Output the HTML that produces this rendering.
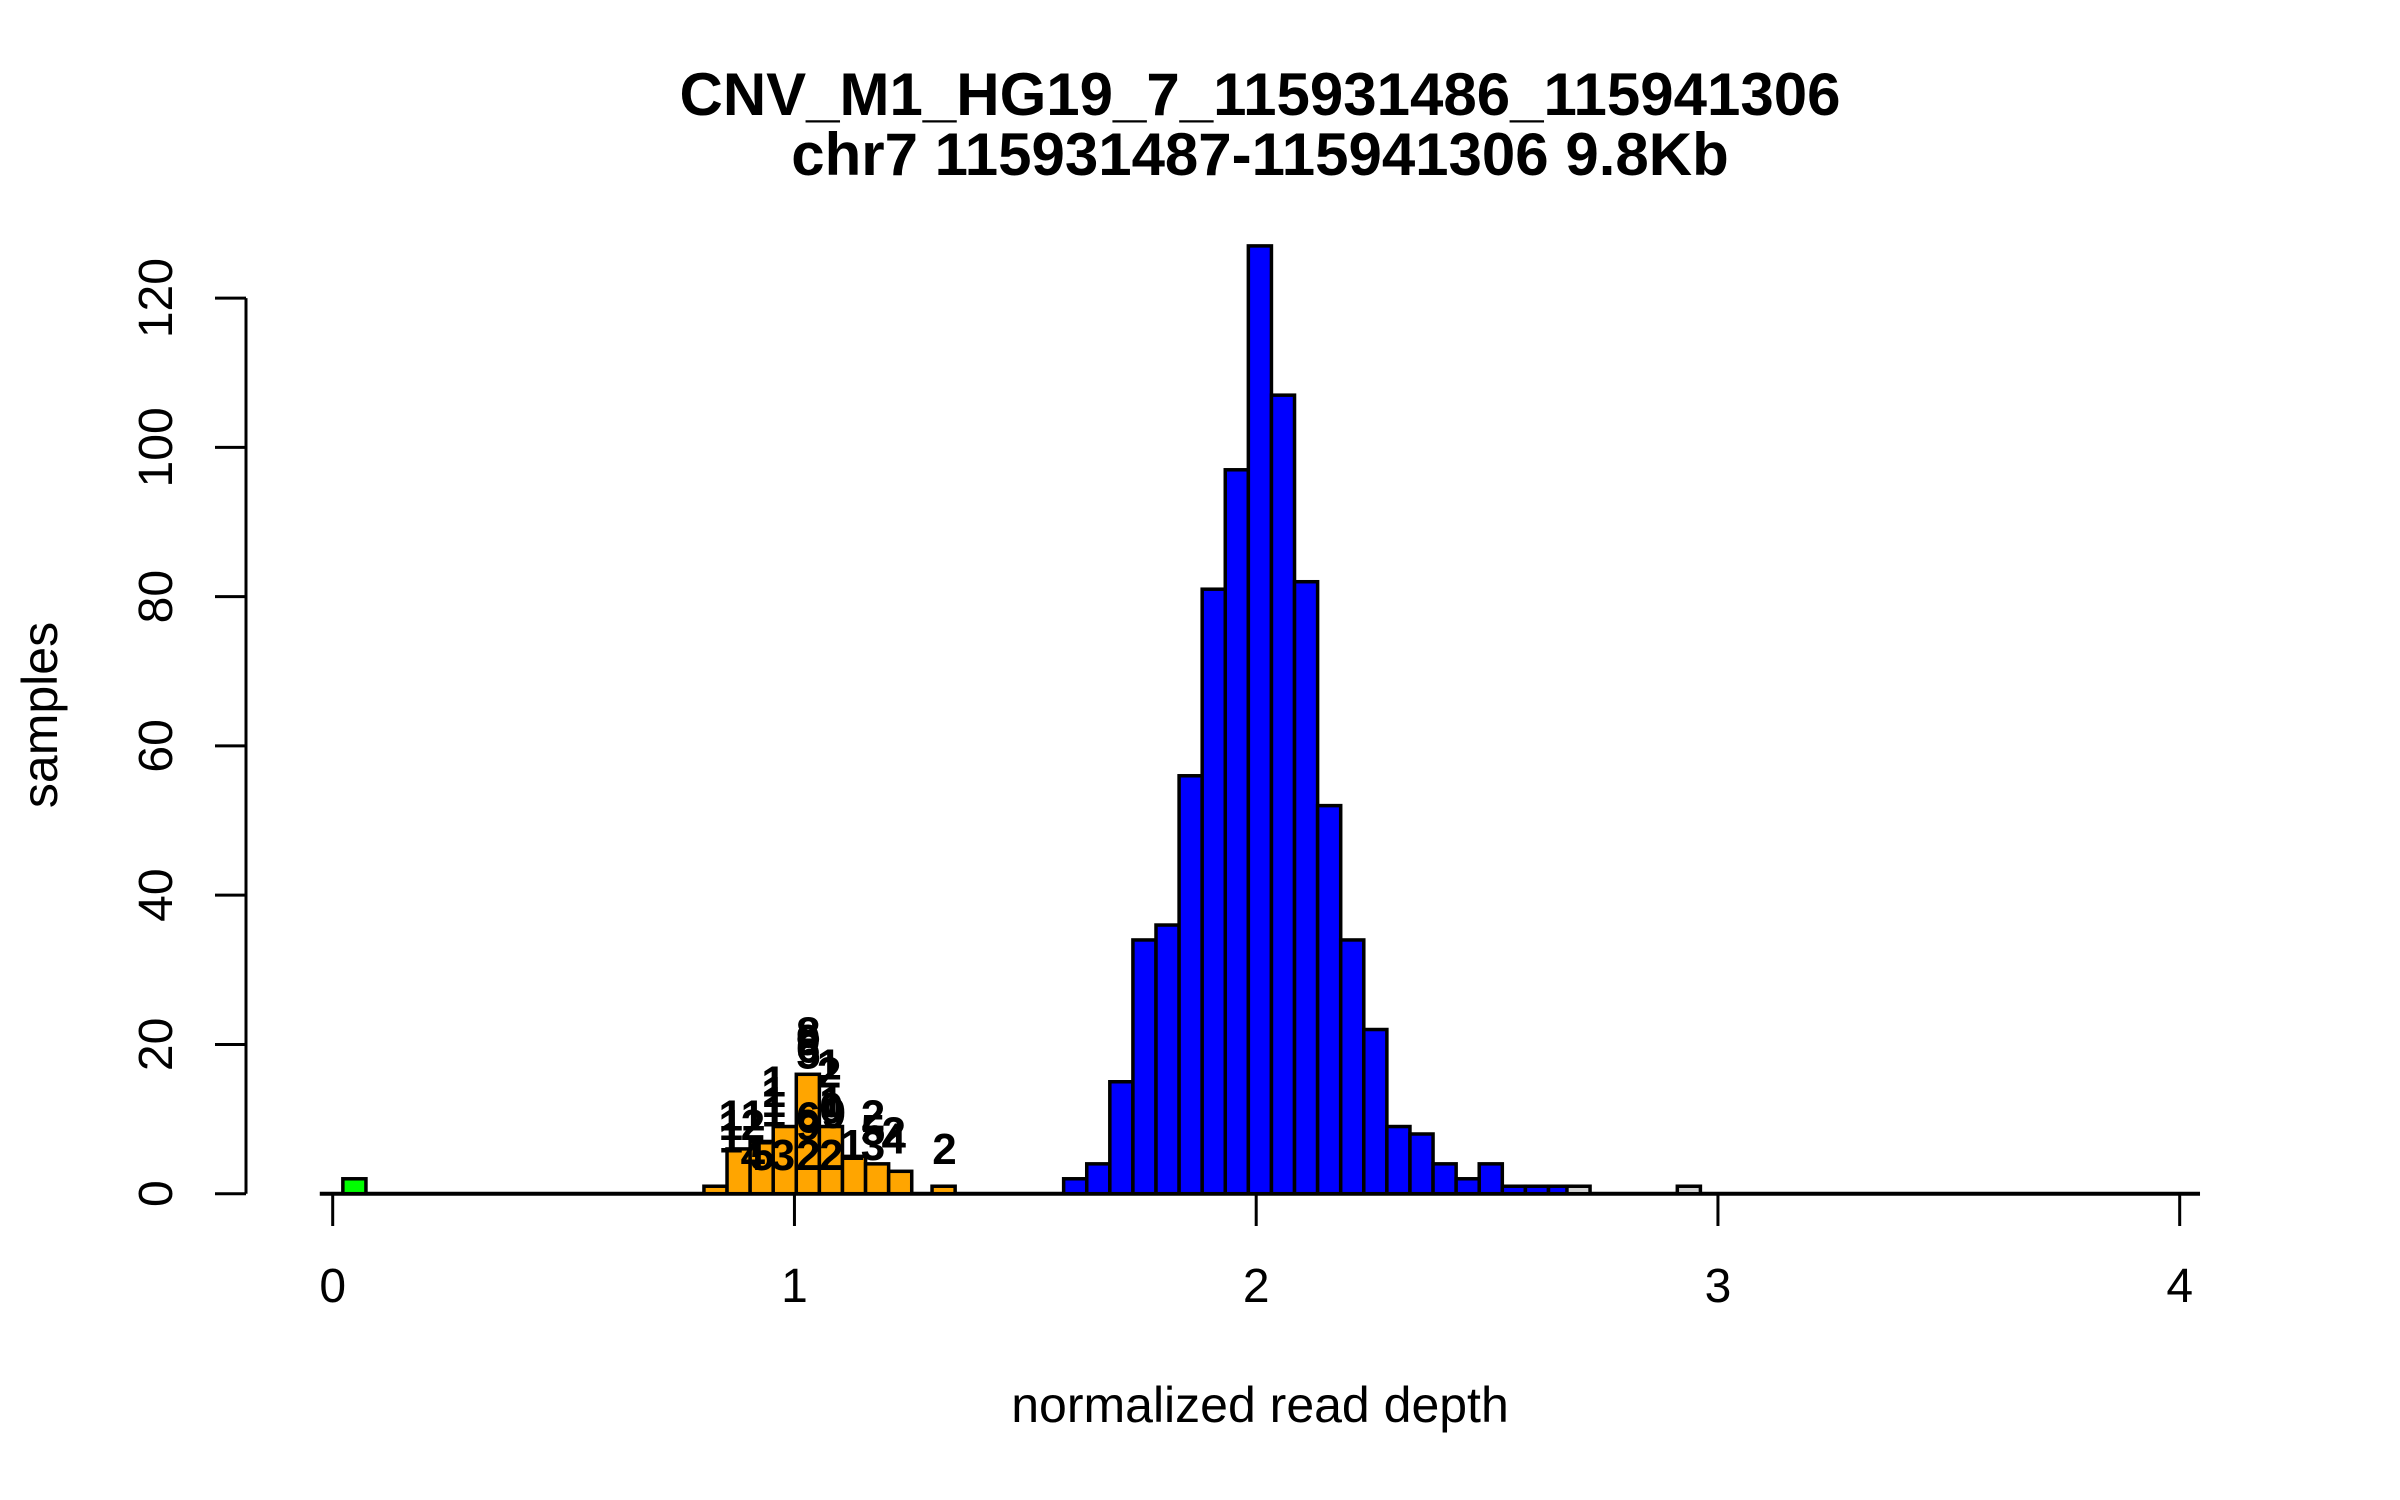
<!DOCTYPE html>
<html><head><meta charset="utf-8"><style>
html,body{margin:0;padding:0;background:#fff;}
svg{display:block;font-family:"Liberation Sans",Arial,sans-serif;}
</style></head><body>
<svg id="chart" width="2400" height="1500" viewBox="0 0 2400 1500">
<text x="1260" y="115" font-size="60" font-weight="bold" text-anchor="middle">CNV_M1_HG19_7_115931486_115941306</text>
<text x="1260" y="175" font-size="60" font-weight="bold" text-anchor="middle">chr7 115931487-115941306 9.8Kb</text>
<text x="1260" y="1422" font-size="50" text-anchor="middle">normalized read depth</text>
<text x="0" y="0" font-size="50" text-anchor="middle" transform="translate(57,715) rotate(-90)">samples</text>
<g id="bars"></g><g id="axes"></g><g id="labels"></g>
</svg>
<script>
const binWidth = 0.05;
const greenStarts = [0.022];
const greenCounts = [2];
const orangeStarts = [0.804,0.854,0.904,0.954,1.004,1.054,1.104,1.154,1.204,1.298];
const orangeCounts = [1,6,7,9,16,9,5,4,3,1];
const blueStarts = [1.583,1.633,1.683,1.733,1.783,1.833,1.883,1.933,1.983,2.033,2.083,2.133,2.183,2.233,2.283,2.333,2.383,2.433,2.483,2.533,2.583,2.633];
const blueCounts = [2,4,15,34,36,56,81,97,127,107,82,52,34,22,9,8,4,2,4,1,1,1];
const greyStarts = [2.673,2.912];
const greyCounts = [1,1];
const xTicks = [0,1,2,3,4];
const yTicks = [0,20,40,60,80,100,120];
const labelDepth = [0.862,0.862,0.862,0.91,0.91,0.91,0.93,0.955,0.955,0.955,0.955,0.975,1.03,1.03,1.03,1.03,1.03,1.03,1.03,1.075,1.075,1.08,1.08,1.085,1.08,1.125,1.17,1.17,1.17,1.215,1.215,1.325];
const labelSamples = [8.5,7.2,5.5,8.5,7.2,3.2,3.2,13,11.6,10.3,9,3.2,19.6,18.6,17.6,16.8,8.2,7.2,3.2,15.3,14.2,10.3,9.5,8.8,3.2,4.5,8.5,6.5,4.5,6.2,5.4,4.0];
const labelText = ["1","1","1","1","2","4","5","1","1","1","1","3","8","9","6","5","6","9","2","1","2","1","0","9","2","1","2","5","3","2","4","2"];

const X0 = 332.7, XS = 461.75, Y0 = 1193.7, YS = 7.463;
const sx = v => X0 + v * XS;
const sy = v => Y0 - v * YS;
const NS = "http://www.w3.org/2000/svg";
const bars = document.getElementById('bars');
const axes = document.getElementById('axes');
const labels = document.getElementById('labels');

function mk(tag, attrs, parent){
  const e = document.createElementNS(NS, tag);
  for (const k in attrs) e.setAttribute(k, attrs[k]);
  parent.appendChild(e);
  return e;
}

const base = mk('line', {x1: sx(-0.028), x2: sx(4.044), y1: sy(0), y2: sy(0), stroke:'#000', 'stroke-width':4}, bars);



function drawSeries(starts, counts, fill, name){
  starts.forEach((s, i) => {
    const r = mk('rect', {x: sx(s), y: sy(counts[i]), width: sx(s + binWidth) - sx(s), height: sy(0) - sy(counts[i]), fill: fill, stroke:'#000', 'stroke-width':3.5}, bars);
    
    
  });
}
drawSeries(greenStarts, greenCounts, '#00ff00', 'green');
drawSeries(orangeStarts, orangeCounts, '#ffa500', 'orange');
drawSeries(blueStarts, blueCounts, '#0000ff', 'blue');
drawSeries(greyStarts, greyCounts, '#d3d3d3', 'grey');

xTicks.forEach(t => {
  const tk = mk('line', {x1: sx(t), x2: sx(t), y1: sy(0), y2: 1226, stroke:'#000', 'stroke-width':3}, axes);
  
  
  const tl = mk('text', {x: sx(t), y: 1302, 'font-size':48, 'text-anchor':'middle'}, axes);
  tl.textContent = String(t);
  
  
});

const yl = mk('line', {x1: 246, x2: 246, y1: sy(yTicks[0]), y2: sy(yTicks[yTicks.length-1]), stroke:'#000', 'stroke-width':3}, axes);


yTicks.forEach(t => {
  const tk = mk('line', {x1: 215, x2: 246, y1: sy(t), y2: sy(t), stroke:'#000', 'stroke-width':3}, axes);
  
  
  const tl = mk('text', {x: 0, y: 0, 'font-size':48, 'text-anchor':'middle', transform: 'translate(172,' + sy(t) + ') rotate(-90)'}, axes);
  tl.textContent = String(t);
  
  
});

labelText.forEach((s, i) => {
  const t = mk('text', {x: sx(labelDepth[i]), y: sy(labelSamples[i]), 'font-size':44, 'font-weight':'bold', 'text-anchor':'middle'}, labels);
  t.textContent = s;
  
  
});
</script>
</body></html>
